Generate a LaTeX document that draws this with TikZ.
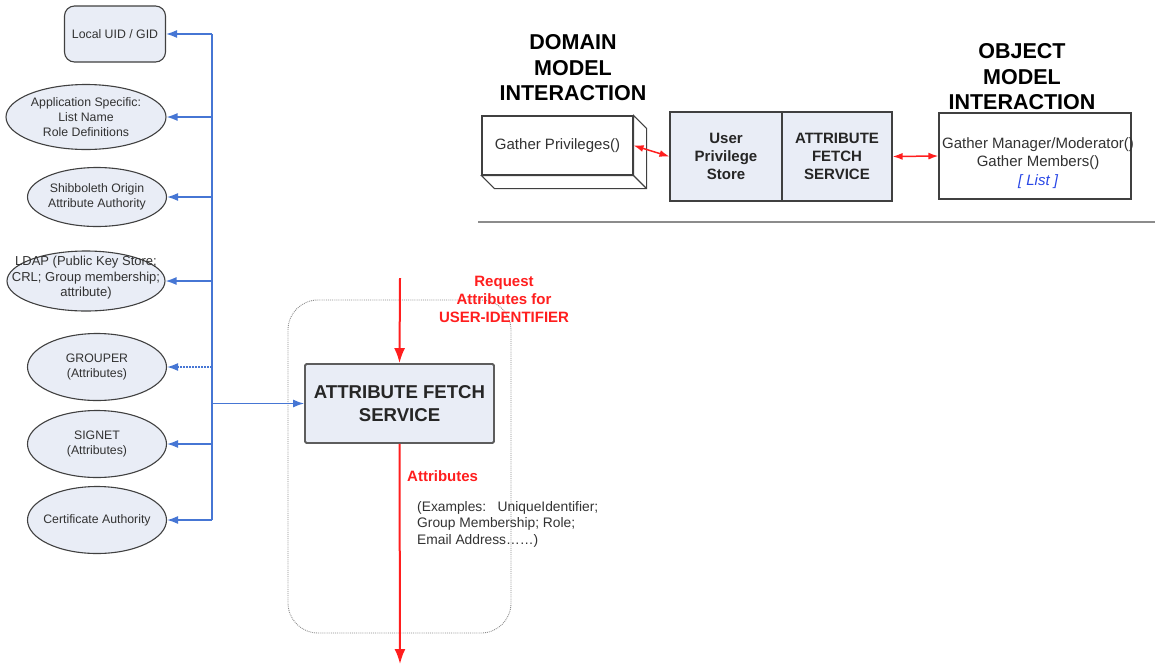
\documentclass[tikz,border=0pt]{standalone}
\usepackage{fontspec}
\setmainfont{Liberation Sans}
\usetikzlibrary{shapes.geometric,arrows.meta,calc}
\definecolor{boxfill}{RGB}{233,237,246}
\definecolor{edge}{RGB}{64,64,64}
\definecolor{linkblue}{RGB}{70,118,212}
\definecolor{flowred}{RGB}{255,30,30}
\definecolor{txtgray}{RGB}{50,50,50}
\definecolor{listblue}{RGB}{40,70,230}
\definecolor{rulegray}{RGB}{140,140,140}

\begin{document}
\begin{tikzpicture}[x=1pt,y=-1pt,
  srcfont/.style={font=\fontsize{12.3}{15}\selectfont},
  srcbox/.style={draw=edge, line width=1.1pt, fill=boxfill, rounded corners=10pt,
    srcfont, text=txtgray, align=center},
  srcell/.style={draw=edge, line width=1.1pt, fill=boxfill, ellipse, inner sep=0pt},
  srctext/.style={srcfont, text=txtgray, align=center, inner sep=0pt},
  link/.style={draw=linkblue, line width=1.4pt},
  linkarr/.style={link, -{Latex[length=11pt,width=8pt]}},
  flow/.style={draw=flowred, line width=2pt, -{Latex[length=15pt,width=11pt]}},
  pair/.style={draw=flowred, line width=1.5pt, {Latex[length=10pt,width=7pt]}-{Latex[length=10pt,width=7pt]}},
  heading/.style={font=\fontsize{21.5}{25.5}\selectfont\bfseries, align=center, inner sep=0pt},
  storebox/.style={draw=edge, line width=1.1pt, fill=boxfill, align=center,
    font=\fontsize{15}{18}\selectfont\bfseries, text=black!85},
  plainbox/.style={draw=edge, line width=1.1pt, fill=white},
  redlabel/.style={text=flowred, font=\fontsize{15}{18}\selectfont\bfseries, align=center, inner sep=0pt},
]
\useasboundingbox (0,0) rectangle (1155,665);

% ---------- attribute sources ----------
\node[srcbox, minimum width=101pt, minimum height=56pt] (uid) at (115,34) {Local UID / GID};

\node[srcell, minimum width=160pt, minimum height=65pt] (app) at (86,117) {};
\node[srctext] (appt) at (app) {Application Specific:\\List Name\\Role Definitions};

\node[srcell, minimum width=139pt, minimum height=59pt] (shib) at (97,197) {};
\node[srctext] (shibt) at (shib) {Shibboleth Origin\\Attribute Authority};

\node[srcell, minimum width=158pt, minimum height=60pt] (ldap) at (86,281) {};
\node[srctext, font=\fontsize{13}{15.5}\selectfont] (ldapt) at (86,278)
  {LDAP (Public Key Store;\\CRL; Group membership;\\attribute)};

\node[srcell, minimum width=139pt, minimum height=67pt] (grouper) at (97,367) {};
\node[srctext] (groupert) at (grouper) {GROUPER\\(Attributes)};

\node[srcell, minimum width=139pt, minimum height=67pt] (signet) at (97,444) {};
\node[srctext] (signett) at (signet) {SIGNET\\(Attributes)};

\node[srcell, minimum width=139pt, minimum height=67pt] (cert) at (97,520) {};
\node[srctext] (certt) at (cert) {Certificate Authority};

% ---------- attribute fetch service ----------
\node[draw=rulegray, densely dotted, line width=0.9pt, rounded corners=30pt,
      minimum width=223pt, minimum height=333pt] (scope) at (399.5,466.5) {};
\node[draw=edge!85, line width=1.8pt, fill=boxfill, rounded corners=1.5pt,
      minimum width=189pt, minimum height=79pt, align=center,
      font=\fontsize{18.6}{22.5}\selectfont\bfseries, text=black!85] (afs) at (399.5,403.5)
      {ATTRIBUTE FETCH\\SERVICE};

% bus from the sources to the service
\coordinate (bus) at (212,0);
\draw[link] (uid.east -| bus) -- (cert.east -| bus);
\draw[linkarr] (uid.east -| bus) -- (uid.east);
\draw[linkarr] (app.east -| bus) -- (app.east);
\draw[linkarr] (shib.east -| bus) -- (shib.east);
\draw[linkarr] (ldap.east -| bus) -- (ldap.east);
\draw[linkarr, dash pattern=on 2pt off 1pt] (grouper.east -| bus) -- (grouper.east);
\draw[linkarr] (signet.east -| bus) -- (signet.east);
\draw[linkarr] (cert.east -| bus) -- (cert.east);
\draw[linkarr] (bus |- afs.west) -- (afs.west);

% request and result flow
\coordinate (req) at (400,278);
\coordinate (res) at (400,664);
\draw[flow] (req) -- (afs.north);
\draw[flow] (afs.south) -- (res);

\node[redlabel] (reqlbl) at (504,299) {Request\\Attributes for\\USER-IDENTIFIER};
\node[redlabel, anchor=west] (reslbl) at (407,476) {Attributes};
\node[srctext, anchor=west, align=left, font=\fontsize{13.8}{16.5}\selectfont] (examples) at (417,524)
  {(Examples:\ \ \ UniqueIdentifier;\\Group Membership; Role;\\Email Address……)};

% ---------- domain / object model interaction ----------
\node[heading] (domhd) at (573,68) {DOMAIN\\MODEL\\INTERACTION};
\node[heading] (objhd) at (1022,77) {OBJECT\\MODEL\\INTERACTION};

\node[plainbox, minimum width=151pt, minimum height=59pt,
      font=\fontsize{15}{18}\selectfont, text=txtgray] (gp) at (557.5,145.5) {Gather Privileges()};
\draw[edge, line width=1.1pt, fill=white]
  (gp.north east) -- ($(gp.north east)+(13,13)$) -- ($(gp.south east)+(13,13)$)
  -- ($(gp.south west)+(13,13)$) -- (gp.south west) -- (gp.south east) -- cycle;
\draw[edge, line width=1.1pt] (gp.south east) -- ($(gp.south east)+(13,13)$);

\node[storebox, minimum width=112pt, minimum height=89pt] (ups) at (726,156.5) {User\\Privilege\\Store};
\node[storebox, minimum width=110pt, minimum height=89pt] (afs2) at (837,156.5) {ATTRIBUTE\\FETCH\\SERVICE};

\node[plainbox, minimum width=192pt, minimum height=86pt] (obj) at (1035,156) {};
\node[align=center, inner sep=0pt, font=\fontsize{15}{18.5}\selectfont, text=txtgray] (objt) at (1038,163)
  {Gather Manager/Moderator()\\Gather Members()\\{\color{listblue}\itshape [ List ]}};

\draw[pair] (gp.east) -- (ups.west);
\draw[pair] (afs2.east) -- (obj.west);

\coordinate (ruleL) at (478,222);
\coordinate (ruleR) at (1155,222);
\draw[rulegray, line width=1.6pt] (ruleL) -- (ruleR);
\end{tikzpicture}
\end{document}
